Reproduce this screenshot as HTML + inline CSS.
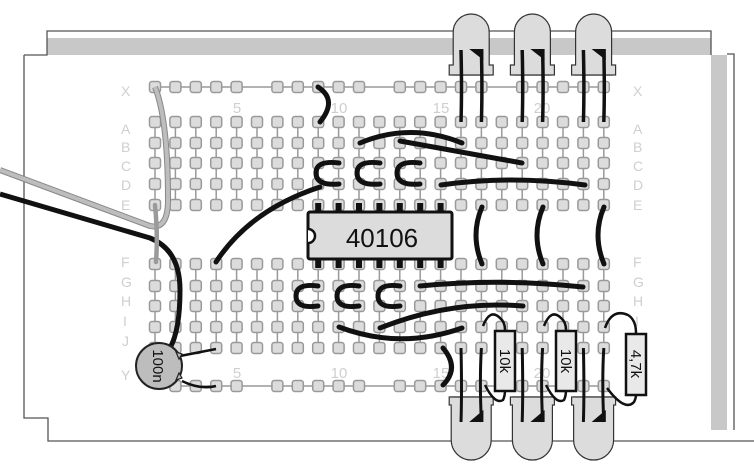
<!DOCTYPE html>
<html><head><meta charset="utf-8"><style>
html,body{margin:0;padding:0;background:#fff;width:754px;height:465px;overflow:hidden}
svg{display:block}
text{font-family:"Liberation Sans",sans-serif}
</style></head><body>
<svg id="s" width="754" height="465" viewBox="0 0 754 465" xmlns="http://www.w3.org/2000/svg">
<rect x="47" y="38" width="664" height="17" fill="#c8c8c8"/>
<rect x="711" y="55" width="16" height="375" fill="#c8c8c8"/>
<path d="M24,55 H47 V31 H711 V55 M727,54 H734 V430" fill="none" stroke="#555" stroke-width="1.3"/>
<path d="M24,55 V418 H48 V441 H754" fill="none" stroke="#555" stroke-width="1.3"/>
<g id="grid"></g>
<g id="labels" fill="#cfcfcf" font-size="14">
<text x="121" y="96">X</text><text x="121" y="134">A</text><text x="121" y="152">B</text><text x="121" y="171">C</text><text x="121" y="190">D</text><text x="121" y="210">E</text>
<text x="121" y="267">F</text><text x="121" y="287">G</text><text x="121" y="306">H</text><text x="123" y="326">I</text><text x="122" y="346">J</text><text x="121" y="380">Y</text>
<text x="633" y="96">X</text><text x="633" y="134">A</text><text x="633" y="152">B</text><text x="633" y="171">C</text><text x="633" y="190">D</text><text x="633" y="210">E</text>
<text x="633" y="267">F</text><text x="633" y="287">G</text><text x="633" y="306">H</text><text x="635" y="326">I</text><text x="634" y="346">J</text><text x="633" y="380">Y</text>
<g font-size="15" text-anchor="middle"><text x="237" y="113">5</text><text x="339" y="113">10</text><text x="441" y="113">15</text><text x="542" y="113">20</text>
<text x="237" y="378">5</text><text x="339" y="378">10</text><text x="441" y="378">15</text><text x="542" y="378">20</text></g>
</g>
<path d="M0,170 L150,226 Q168,230 168,200 Q168,120 155,87" fill="none" stroke="#888" stroke-width="6"/>
<path d="M0,170 L150,226 Q168,230 168,200 Q168,120 155,87" fill="none" stroke="#bdbdbd" stroke-width="4"/>
<path d="M0,194 L150,238 Q180,250 180,290 Q180,330 170,348" fill="none" stroke="#111" stroke-width="5"/>
<path d="M155,205 Q158,235 156,262" fill="none" stroke="#9a9a9a" stroke-width="4.5" stroke-linecap="round"/>
<g id="ic">
<rect x="308" y="212" width="144" height="47" rx="2" fill="#dcdcdc" stroke="#111" stroke-width="3"/>
<path d="M308,229 A7,7 0 0 1 308,243" fill="#fff" stroke="#111" stroke-width="2.5"/>
<text x="382" y="247" font-size="26" text-anchor="middle" fill="#111">40106</text>
</g>
<g id="wires" fill="none" stroke="#111" stroke-width="5" stroke-linecap="round">
<path d="M318,87 Q338,100 320,122"/>
<path d="M360,143 Q410,122 462,143"/>
<path d="M400,141 L522,163"/>
<path d="M339,163 Q316,160 316,173 Q316,186 339,184"/>
<path d="M380,163 Q357,160 357,173 Q357,186 380,184"/>
<path d="M420,163 Q397,160 397,173 Q397,186 420,184"/>
<path d="M320,187 Q250,210 216,262"/>
<path d="M441,185 Q510,175 585,185"/>
<path d="M482,207 Q470,235 482,264"/>
<path d="M543,207 Q531,235 543,264"/>
<path d="M604,207 Q592,235 604,264"/>
<path d="M318,286 Q296,283 296,296 Q296,309 318,306"/>
<path d="M359,286 Q337,283 337,296 Q337,309 359,306"/>
<path d="M400,286 Q378,283 378,296 Q378,309 400,306"/>
<path d="M420,286 Q500,278 583,287"/>
<path d="M380,328 Q450,300 523,306"/>
<path d="M339,327 Q400,350 462,328"/>
<path d="M443,348 Q460,368 443,385"/>
</g>
<g>
<path d="M180,356 L216,349 M182,381 Q200,390 216,386" fill="none" stroke="#111" stroke-width="2.5"/>
<circle cx="159" cy="366" r="23" fill="#bdbdbd" stroke="#222" stroke-width="2"/>
<path d="M176,352 l6,2 l-3,5 z M176,380 l6,-2 l-3,-5 z" fill="#bdbdbd" stroke="#222" stroke-width="1.2"/>
<text transform="translate(153,366) rotate(90)" font-size="15" text-anchor="middle" fill="#111">100n</text>
</g>
<g id="leds"></g>
<g fill="none" stroke="#111" stroke-width="2.5">
<path d="M483,326 Q490,308 500,318 Q505,322 505,330"/>
<path d="M485,385 Q495,405 503,400 Q505,396 505,390"/>
<path d="M544,326 Q551,308 561,318 Q566,322 566,330"/>
<path d="M546,385 Q556,405 564,400 Q566,396 566,390"/>
<path d="M605,328 Q612,308 628,315 Q636,320 636,333"/>
<path d="M607,388 Q625,412 634,402 Q636,398 636,395"/>
</g>
<g fill="#e9e9e9" stroke="#111" stroke-width="2.5">
<rect x="495" y="331" width="20" height="60"/>
<rect x="556" y="331" width="20" height="60"/>
<rect x="626" y="334" width="20" height="61"/>
</g>
<g font-size="15" fill="#111" text-anchor="middle">
<text transform="translate(500,361) rotate(90)">10k</text>
<text transform="translate(561,361) rotate(90)">10k</text>
<text transform="translate(631,364) rotate(90)">4,7k</text>
</g>
</svg>
<script>
(function(){
var NS="http://www.w3.org/2000/svg";
function el(p,t,a){var e=document.createElementNS(NS,t);for(var k in a)e.setAttribute(k,a[k]);p.appendChild(e);return e;}
var g=document.getElementById('grid');
function cx(i){return 155+20.4*i;}
var topRows=[122,143,163,184,205],botRows=[264,286,306,327,348];
for(var i=0;i<23;i++){
 el(g,'line',{x1:cx(i),y1:122,x2:cx(i),y2:205,stroke:'#999','stroke-width':1.5});
 el(g,'line',{x1:cx(i),y1:264,x2:cx(i),y2:348,stroke:'#999','stroke-width':1.5});
}
el(g,'line',{x1:155,y1:87,x2:604,y2:87,stroke:'#999','stroke-width':1.5});
el(g,'line',{x1:177,y1:386,x2:604,y2:386,stroke:'#999','stroke-width':1.5});
function hole(x,y){el(g,'rect',{x:x-5.5,y:y-5.5,width:11,height:11,rx:2.5,fill:'#dcdcdc',stroke:'#999','stroke-width':1.5});}
for(var i=0;i<23;i++){
 topRows.forEach(function(y){hole(cx(i),y)});
 botRows.forEach(function(y){hole(cx(i),y)});
 if(i%6!=5){hole(cx(i),87); if(i>0)hole(cx(i),386);}
}
var ic=document.getElementById('ic');
for(var i=8;i<=14;i++){el(ic,'rect',{x:cx(i)-3,y:203,width:6,height:10,fill:'#111'});el(ic,'rect',{x:cx(i)-3,y:258,width:6,height:10,fill:'#111'});}
var L=document.getElementById('leds');
[[15,16],[18,19],[21,22]].forEach(function(p){
 var a=cx(p[0]),b=cx(p[1]),c=(a+b)/2;
 el(L,'path',{d:'M'+(c-18)+',75 V32 A18,18 0 0 1 '+(c+18)+',32 V75 Z',fill:'#dcdcdc',stroke:'#333','stroke-width':1.2});
 el(L,'rect',{x:c-22,y:65,width:44,height:10,fill:'#dcdcdc',stroke:'#333','stroke-width':1.2});
 el(L,'rect',{x:c-17.4,y:64,width:34.8,height:3,fill:'#dcdcdc'});
 el(L,'path',{d:'M'+a+',50 Q'+(a+1)+',90 '+a+',122 M'+b+',50 Q'+(b+1)+',90 '+b+',122',fill:'none',stroke:'#111','stroke-width':3.5});
 el(L,'path',{d:'M'+(c-2)+',49 H'+(b+2)+' V60 Z',fill:'#111'});
 el(L,'path',{d:'M'+(c-20)+',397 V440 A20,20 0 0 0 '+(c+20)+',440 V397 Z',fill:'#dcdcdc',stroke:'#333','stroke-width':1.2});
 el(L,'rect',{x:c-22,y:397,width:44,height:8,fill:'#dcdcdc',stroke:'#333','stroke-width':1.2});
 el(L,'rect',{x:c-19.4,y:403,width:38.8,height:4,fill:'#dcdcdc'});
 el(L,'path',{d:'M'+a+',348 Q'+(a+1)+',390 '+a+',422 M'+b+',348 Q'+(b-2)+',380 '+b+',422',fill:'none',stroke:'#111','stroke-width':3});
 el(L,'path',{d:'M'+(c-2)+',422 H'+(b+2)+' V410 Z',fill:'#111'});
});
})();
</script>
</body></html>
